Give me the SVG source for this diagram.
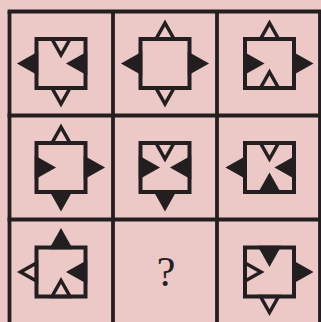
<svg xmlns="http://www.w3.org/2000/svg" width="321" height="322" viewBox="0 0 321 322">
  <style>
    .bg { fill: #ecc9c7; }
    .grid { stroke: #231f20; stroke-width: 3.8; fill: none; }
    .sq { fill: none; stroke: #231f20; stroke-width: 4; stroke-linejoin: miter; }
    .f { fill: #231f20; stroke: #231f20; stroke-width: 3.5; stroke-linejoin: miter; }
    .o { fill: #ecc9c7; stroke: #231f20; stroke-width: 3.5; stroke-linejoin: miter; }
    .q { font-family: "Liberation Serif", "DejaVu Serif", serif; font-size: 42px; fill: #231f20; text-anchor: middle; }
  </style>
  <defs>
    <polygon id="tout" points="-9,-24.5 9,-24.5 0,-40.5"/>
    <polygon id="tin" points="-9,-24.5 9,-24.5 0,-8.5"/>
    <rect id="box" x="-24.5" y="-24.5" width="49" height="49"/>
  </defs>
  <rect class="bg" x="0" y="0" width="321" height="322"/>
  <g id="grid">
    <line class="grid" x1="9.5" y1="11.5" x2="9.5" y2="330"/>
    <line class="grid" x1="113" y1="11.5" x2="113" y2="330"/>
    <line class="grid" x1="217" y1="11.5" x2="217" y2="330"/>
    <line class="grid" x1="320" y1="11.5" x2="320" y2="330"/>
    <line class="grid" x1="7.6" y1="11.5" x2="330" y2="11.5"/>
    <line class="grid" x1="7.6" y1="115.5" x2="330" y2="115.5"/>
    <line class="grid" x1="7.6" y1="219.5" x2="330" y2="219.5"/>
  </g>
  <g id="cell1" transform="translate(61,63.5)">
    <use href="#tin" class="o"/>
    <use href="#tin" class="f" transform="rotate(90)"/>
    <use href="#tout" class="o" transform="rotate(180)"/>
    <use href="#tout" class="f" transform="rotate(270)"/>
    <use href="#box" class="sq"/>
  </g>
  <g id="cell2" transform="translate(165,63.5)">
    <use href="#tout" class="o"/>
    <use href="#tout" class="f" transform="rotate(90)"/>
    <use href="#tout" class="o" transform="rotate(180)"/>
    <use href="#tout" class="f" transform="rotate(270)"/>
    <use href="#box" class="sq"/>
  </g>
  <g id="cell3" transform="translate(269.5,63.5)">
    <use href="#tout" class="o"/>
    <use href="#tout" class="f" transform="rotate(90)"/>
    <use href="#tin" class="o" transform="rotate(180)"/>
    <use href="#tin" class="f" transform="rotate(270)"/>
    <use href="#box" class="sq"/>
  </g>
  <g id="cell4" transform="translate(61,167.5)">
    <use href="#tout" class="o"/>
    <use href="#tout" class="f" transform="rotate(90)"/>
    <use href="#tout" class="f" transform="rotate(180)"/>
    <use href="#tin" class="f" transform="rotate(270)"/>
    <use href="#box" class="sq"/>
  </g>
  <g id="cell5" transform="translate(165,167.5)">
    <use href="#tin" class="o"/>
    <use href="#tin" class="f" transform="rotate(90)"/>
    <use href="#tout" class="f" transform="rotate(180)"/>
    <use href="#tin" class="f" transform="rotate(270)"/>
    <use href="#box" class="sq"/>
  </g>
  <g id="cell6" transform="translate(269.5,167.5)">
    <use href="#tin" class="o"/>
    <use href="#tin" class="f" transform="rotate(90)"/>
    <use href="#tin" class="f" transform="rotate(180)"/>
    <use href="#tout" class="f" transform="rotate(270)"/>
    <use href="#box" class="sq"/>
  </g>
  <g id="cell7" transform="translate(61,272)">
    <use href="#tout" class="f"/>
    <use href="#tin" class="f" transform="rotate(90)"/>
    <use href="#tin" class="o" transform="rotate(180)"/>
    <use href="#tout" class="o" transform="rotate(270)"/>
    <use href="#box" class="sq"/>
  </g>
  <g id="cell8">
    <text class="q" x="166" y="286">?</text>
  </g>
  <g id="cell9" transform="translate(269.5,272)">
    <use href="#tin" class="f"/>
    <use href="#tout" class="f" transform="rotate(90)"/>
    <use href="#tout" class="o" transform="rotate(180)"/>
    <use href="#tin" class="o" transform="rotate(270)"/>
    <use href="#box" class="sq"/>
  </g>
</svg>
